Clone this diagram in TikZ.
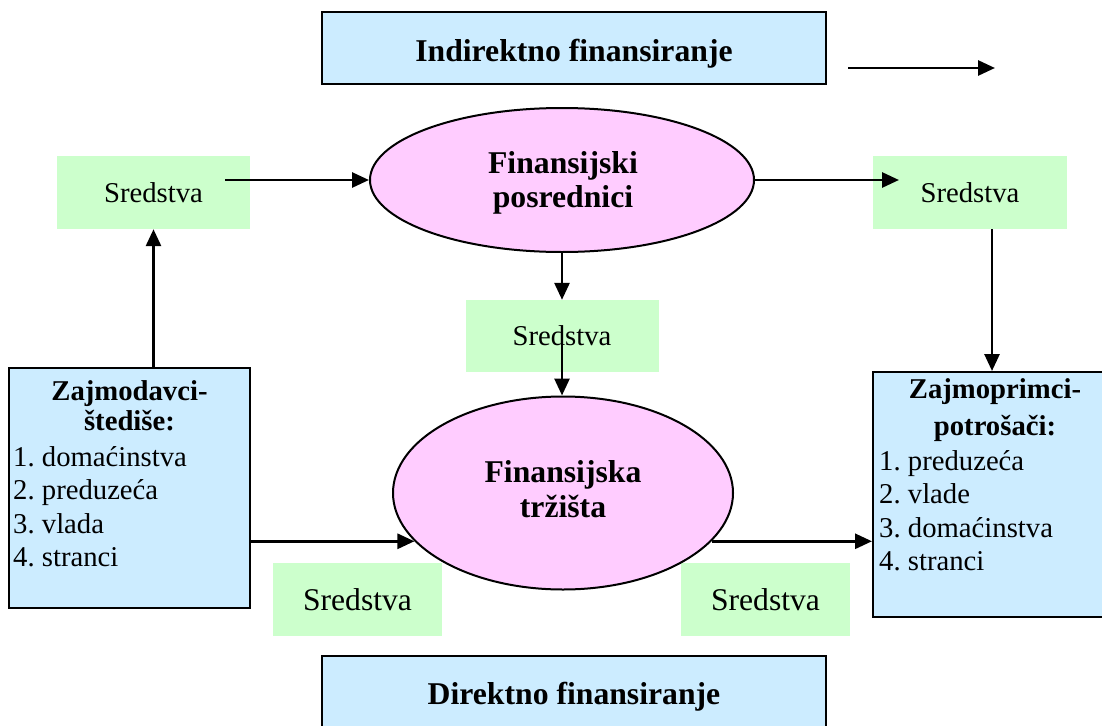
\documentclass[tikz,border=0pt]{standalone}
\usepackage{fontspec}
\setmainfont{Liberation Serif}
\usetikzlibrary{shapes.geometric,arrows.meta}
\frenchspacing

\definecolor{paleblue}{HTML}{CCECFF}
\definecolor{palegreen}{HTML}{CCFFCC}
\definecolor{palepink}{HTML}{FFCCFF}

\tikzset{
  titlebox/.style={rectangle, draw=black, line width=2pt, fill=paleblue, inner sep=0pt},
  agentbox/.style={rectangle, draw=black, line width=2pt, fill=paleblue, inner sep=0pt},
  fundbox/.style={rectangle, fill=palegreen, inner sep=0pt, font=\fontsize{28.7}{33}\selectfont},
  hub/.style={ellipse, draw=black, line width=2pt, fill=palepink, inner sep=0pt},
  flow/.style={line width=2.8pt, -{Triangle[length=17pt,width=15pt]}},
  bodytext/.style={inner sep=0pt, font=\fontsize{28.7}{33}\selectfont},
  boldtext/.style={inner sep=0pt, font=\fontsize{28.7}{33}\selectfont\bfseries},
  headtext/.style={inner sep=0pt, font=\fontsize{31.7}{34}\selectfont\bfseries},
}

\begin{document}
\begin{tikzpicture}[x=1pt, y=-1pt]
  \useasboundingbox (0,0) rectangle (1102,725);
  \clip (0,0) rectangle (1102,725);

  % headline boxes
  \node[titlebox, minimum width=504pt, minimum height=72pt] (indirect) at (574,48) {};
  \node[headtext, anchor=base] (indirectTxt) at (574,61) {Indirektno finansiranje};
  \node[titlebox, minimum width=504pt, minimum height=84pt] (direct) at (574,698) {};
  \node[headtext, anchor=base] (directTxt) at (574,704) {Direktno finansiranje};

  % funds boxes
  \node[fundbox, minimum width=193pt, minimum height=73pt] (sL) at (153.5,192.5) {Sredstva};
  \node[fundbox, minimum width=194pt, minimum height=73pt] (sR) at (970,192.5) {Sredstva};
  \node[fundbox, minimum width=193pt, minimum height=72pt] (sM) at (562,336) {Sredstva};
  \node[fundbox, minimum width=169pt, minimum height=73pt, font=\fontsize{31.6}{34}\selectfont] (sBL) at (357.5,599.5) {Sredstva};
  \node[fundbox, minimum width=169pt, minimum height=73pt, font=\fontsize{31.6}{34}\selectfont] (sBR) at (765.5,599.5) {Sredstva};

  % intermediaries and markets
  \node[hub, minimum width=384pt, minimum height=144pt] (fp) at (562,180) {};
  \node[headtext, anchor=base] (fpA) at (563,173) {Finansijski};
  \node[headtext, anchor=base] (fpB) at (563,207) {posrednici};
  \node[hub, minimum width=340pt, minimum height=193pt] (fm) at (563,493) {};
  \node[headtext, anchor=base] (fmA) at (563,482) {Finansijska};
  \node[headtext, anchor=base] (fmB) at (563,517) {tržišta};

  % lenders
  \node[agentbox, minimum width=241pt, minimum height=240pt] (lender) at (129.5,488) {};
  \node[boldtext, anchor=base] (lenA) at (129.5,400) {Zajmodavci-};
  \node[boldtext, anchor=base] (lenB) at (129.5,430) {štediše:};
  \node[bodytext, anchor=base west] (len1) at (13,466) {1. domaćinstva};
  \node[bodytext, anchor=base west] (len2) at (13,499) {2. preduzeća};
  \node[bodytext, anchor=base west] (len3) at (13,533) {3. vlada};
  \node[bodytext, anchor=base west] (len4) at (13,566) {4. stranci};

  % borrowers
  \node[agentbox, minimum width=244pt, minimum height=245pt] (borrower) at (995,494.5) {};
  \node[boldtext, anchor=base] (borA) at (995,398) {Zajmoprimci-};
  \node[boldtext, anchor=base] (borB) at (995,435) {potrošači:};
  \node[bodytext, anchor=base west] (bor1) at (879,470) {1. preduzeća};
  \node[bodytext, anchor=base west] (bor2) at (879,503) {2. vlade};
  \node[bodytext, anchor=base west] (bor3) at (879,537) {3. domaćinstva};
  \node[bodytext, anchor=base west] (bor4) at (879,570) {4. stranci};

  % flow connectors
  \coordinate (fundsLout) at (225,180);
  \coordinate (fundsRin) at (899,180);
  \coordinate (midIn) at (562,340);
  \coordinate (rightDown) at (992,229);
  \coordinate (legendA) at (848,68);
  \coordinate (legendB) at (995,68);

  \draw[flow] (fundsLout) -- (fp.west);
  \draw[flow] (fp.east) -- (fundsRin);
  \draw[flow] (fp.south) -- (fp.south |- sM.north);
  \draw[flow] (midIn) -- (midIn |- fm.north);
  \draw[flow] (sL.south |- lender.north) -- (sL.south);
  \draw[flow] (lender.east |- fm.198) -- (fm.198);
  \draw[flow] (fm.-18) -- (borrower.west |- fm.-18);
  \draw[flow] (rightDown) -- (rightDown |- borrower.north);
  \draw[flow] (legendA) -- (legendB);
\end{tikzpicture}
\end{document}
